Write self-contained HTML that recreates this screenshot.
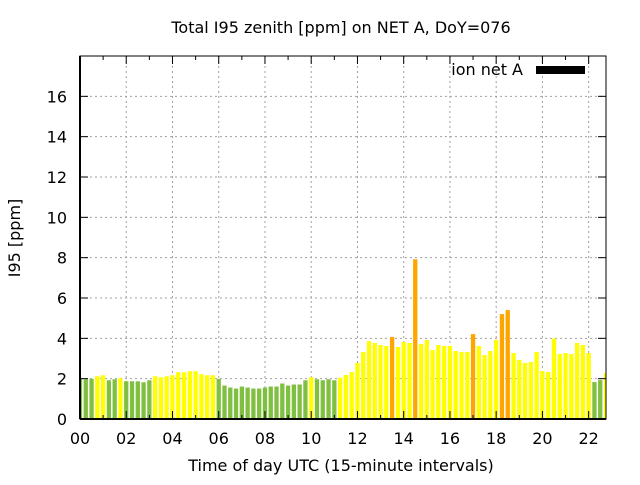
<!DOCTYPE html>
<html><head><meta charset="utf-8"><style>
html,body{margin:0;padding:0;background:#fff}
svg text{font-family:"DejaVu Sans","Liberation Sans",sans-serif;font-size:16px;fill:#000}
</style></head><body>
<svg id="chart" width="640" height="480" viewBox="0 0 640 480">
<rect width="640" height="480" fill="#fff"/>
<text x="341" y="33" text-anchor="middle">Total I95 zenith [ppm] on NET A, DoY=076</text>
<text x="341" y="471" text-anchor="middle">Time of day UTC (15-minute intervals)</text>
<text transform="translate(20,238) rotate(-90)" text-anchor="middle">I95 [ppm]</text>
<g id="grid"></g>
<g id="bars"></g>
<g id="axes"></g>
<text x="523" y="75" text-anchor="end">ion net A</text>
<rect x="536" y="66" width="49" height="8" fill="#000"/>
</svg>
<script>
const values = [1.99,1.97,1.99,2.12,2.17,1.92,1.97,2.02,1.87,1.87,1.87,1.82,1.92,2.12,2.07,2.12,2.17,2.32,2.32,2.37,2.37,2.22,2.17,2.17,1.99,1.66,1.56,1.51,1.61,1.56,1.51,1.51,1.56,1.61,1.61,1.76,1.66,1.71,1.71,1.92,2.07,1.97,1.92,1.97,1.92,2.05,2.18,2.33,2.78,3.32,3.87,3.77,3.67,3.62,4.07,3.57,3.82,3.77,7.92,3.72,3.92,3.42,3.67,3.62,3.62,3.37,3.32,3.32,4.21,3.62,3.17,3.37,3.92,5.2,5.4,3.27,2.93,2.78,2.83,3.32,2.38,2.33,3.99,3.22,3.27,3.22,3.77,3.67,3.27,1.83,1.93,2.28];
const yTicks = [0,2,4,6,8,10,12,14,16];
const xTickLabels = ["00","02","04","06","08","10","12","14","16","18","20","22"];
const xTickHours = [0,2,4,6,8,10,12,14,16,18,20,22];
const stepHours = 0.25;

const L=80,R=606,T=56,B=419,XMAX=22.75,YMAX=18;
const sx=h=>L+(h/XMAX)*(R-L);
const sy=v=>B-(v/YMAX)*(B-T);
const NS="http://www.w3.org/2000/svg";
function mk(tag,attrs,parent){const e=document.createElementNS(NS,tag);for(const k in attrs)e.setAttribute(k,attrs[k]);parent.appendChild(e);return e;}
const grid=document.getElementById('grid'),bars=document.getElementById('bars'),axes=document.getElementById('axes');
yTicks.forEach(v=>{
  if(v>0){const g=mk('line',{x1:L,x2:R,y1:sy(v),y2:sy(v),stroke:'#a0a0a0','stroke-dasharray':'2,3'},grid);
  
  }
  const t=mk('text',{x:L-13,y:sy(v)+6,'text-anchor':'end'},axes);t.textContent=v;
  
  
  mk('line',{x1:L,x2:L+8,y1:sy(v),y2:sy(v),stroke:'#000'},axes);
  mk('line',{x1:R,x2:R-8,y1:sy(v),y2:sy(v),stroke:'#000'},axes);
});
xTickHours.forEach((h,i)=>{
  const g=h>0?mk('line',{x1:sx(h),x2:sx(h),y1:T,y2:B,stroke:'#a0a0a0','stroke-dasharray':'2,3'},grid):null;
  if(g){
  }
  const t=mk('text',{x:sx(h),y:444,'text-anchor':'middle'},axes);t.textContent=xTickLabels[i];
  
  
});
for(let h=0;h<=22;h++){
  const len=h%2===0?8:4;
  mk('line',{x1:sx(h),x2:sx(h),y1:B,y2:B-len,stroke:'#000'},axes);
  mk('line',{x1:sx(h),x2:sx(h),y1:T,y2:T+len,stroke:'#000'},axes);
}
const bw=4.3;
values.forEach((v,i)=>{
  const c=sx(i*stepHours);
  let x0=Math.max(L,c-bw/2),x1=Math.min(R,c+bw/2);
  const col=v<2?'#80c040':(v<4?'#ffff00':'#ffa500');
  const r=mk('rect',{x:x0,y:sy(v),width:x1-x0,height:B-sy(v),fill:col},bars);
  
  
});
const fr=mk('rect',{x:L,y:T,width:R-L,height:B-T,fill:'none',stroke:'#000','stroke-width':1},axes);


mk('line',{x1:L,x2:R,y1:B,y2:B,stroke:'#000','stroke-width':2},axes);
mk('line',{x1:L,x2:L,y1:T,y2:B,stroke:'#000','stroke-width':2},axes);
</script>
</body></html>
